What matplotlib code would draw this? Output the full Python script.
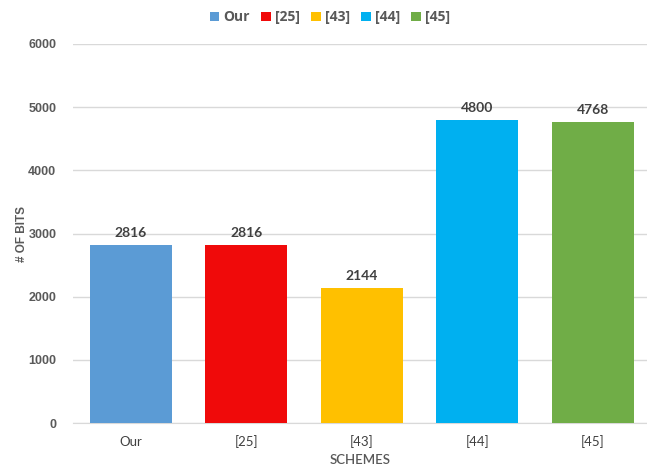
import matplotlib.pyplot as plt
from matplotlib.patches import Patch
from matplotlib.font_manager import FontProperties

categories = ["Our", "[25]", "[43]", "[44]", "[45]"]
values = [2816, 2816, 2144, 4800, 4768]
colors = ["#5B9BD5", "#F00A0A", "#FFC000", "#00B0F0", "#70AD47"]
yticks = [0, 1000, 2000, 3000, 4000, 5000, 6000]

W, H = 647, 468
fig = plt.figure(figsize=(W / 100, H / 100), dpi=100)
ax = fig.add_axes([73 / W, 45 / H, (W - 73) / W, 379 / H])

x = list(range(len(categories)))
ax.bar(x, values, width=0.71, color=colors, zorder=3)
ax.set_xlim(-0.5, 4.47)
ax.set_ylim(0, 6000)
ax.set_yticks(yticks)
ax.grid(axis="y", color="#D9D9D9", linewidth=1, zorder=0)
for s in ["top", "right", "left"]:
    ax.spines[s].set_visible(False)
ax.spines["bottom"].set_color("#D9D9D9")
ax.tick_params(axis="both", length=0, colors="#595959")
ax.tick_params(axis="x", pad=9)
ax.tick_params(axis="y", pad=12)
ax.set_xticks(x)
ax.set_xticklabels(categories, fontsize=9.5, color="#404040", family="Lato")
for lab in ax.get_yticklabels():
    lab.set_fontsize(9)
    lab.set_fontweight("bold")
    lab.set_family("Liberation Sans")
    lab.set_color("#595959")

for xi, v in zip(x, values):
    ax.text(xi, v + 90, str(v), ha="center", va="bottom", fontsize=10,
            fontweight="bold", color="#404040", family="Lato")

ax.set_ylabel("# OF BITS", fontsize=8.5, fontweight="bold", color="#595959",
              family="Liberation Sans", labelpad=0)
ax.set_xlabel("SCHEMES", fontsize=9.5, color="#595959", family="Lato",
              fontweight="semibold", labelpad=4)

handles = [Patch(facecolor=c, edgecolor="none") for c in colors]
leg_font = FontProperties(family="Open Sans", weight="bold", size=10)
leg = fig.legend(handles, categories, loc="center", bbox_to_anchor=(0.51, 0.963),
                 ncol=5, frameon=False, handlelength=0.7, handleheight=0.7,
                 handletextpad=0.3, columnspacing=0.8, prop=leg_font)
for t in leg.get_texts():
    t.set_color("#595959")

fig.savefig("out.png", dpi=100)
